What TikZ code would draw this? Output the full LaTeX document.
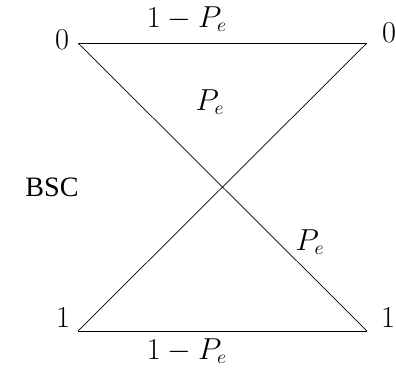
\documentclass[tikz,border=0pt]{standalone}
\usepackage{amsmath}
\usepackage{fontspec}
\setmainfont{Liberation Serif}
\usepackage{tikz}
\usetikzlibrary{positioning}
\tikzset{
  sym/.style={inner sep=1pt,font=\fontsize{16}{19}\selectfont},
  prob/.style={inner sep=1pt,font=\fontsize{16}{19}\selectfont},
  txt/.style={inner sep=1pt,font=\rmfamily\fontsize{16}{19}\selectfont},
  chan/.style={draw=black,thin}
}

\begin{document}
\begin{tikzpicture}[x=0.02cm,y=-0.02cm]
  \useasboundingbox (0,0) rectangle (396,370);
  % input and output ends
  \coordinate (in0) at (78,43);
  \coordinate (out0) at (367,43);
  \coordinate (in1) at (78,331);
  \coordinate (out1) at (367,331);

  \node[sym] (lin0) at (62,40) {$0$};
  \node[sym] (lout0) at (389,33) {$0$};
  \node[sym] (lin1) at (63,318) {$1$};
  \node[sym] (lout1) at (388,318) {$1$};

  \draw[chan] (in0) -- (out0);
  \draw[chan] (in0) -- (out1);
  \draw[chan] (in1) -- (out0);
  \draw[chan] (in1) -- (out1);

  \node[prob] (keep0) at (187,19) {$1-P_e$};
  \node[prob] (keep1) at (187,351) {$1-P_e$};
  \node[prob] (flip0) at (210,102) {$P_e$};
  \node[prob] (flip1) at (310,242) {$P_e$};

  \node[txt] (bsc) at (52,187) {BSC};
\end{tikzpicture}
\end{document}
